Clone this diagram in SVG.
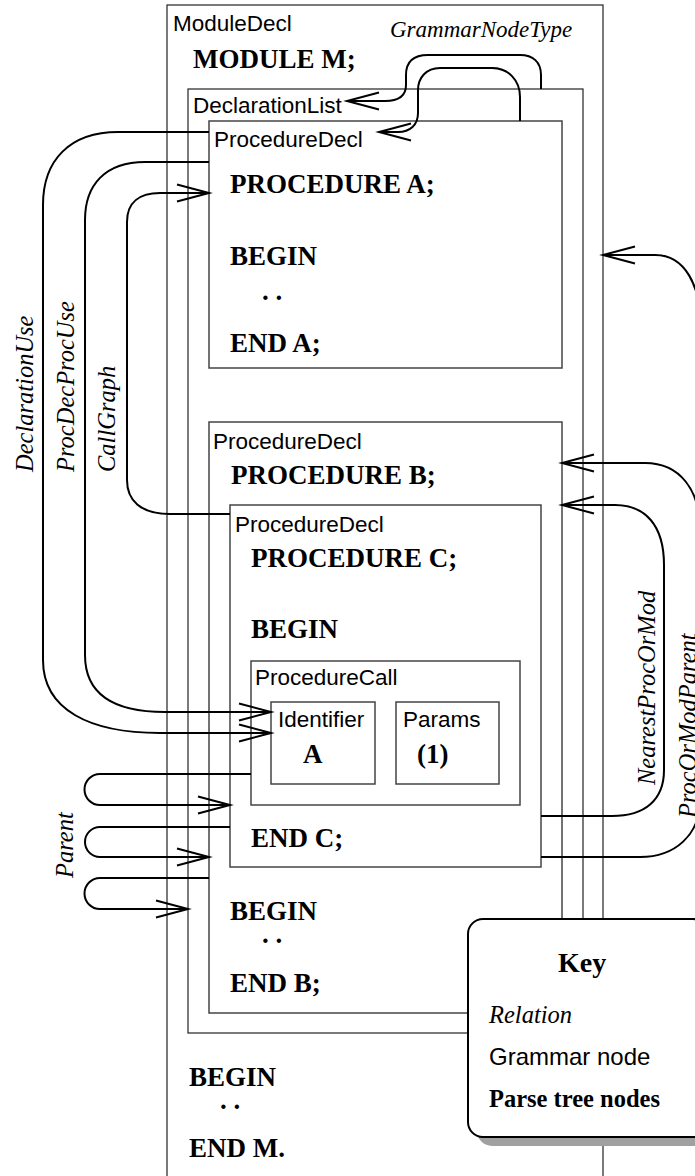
<svg xmlns="http://www.w3.org/2000/svg" width="695" height="1176" viewBox="0 0 695 1176">
<defs>
<marker id="arr" markerUnits="userSpaceOnUse" markerWidth="40" markerHeight="24" viewBox="-34 -12 36 24" refX="0" refY="0" orient="auto" overflow="visible">
<path d="M -32 -8.5 L 0 0 L -32 8.5" fill="none" stroke="#000" stroke-width="2"/>
</marker>
<style>
.box{fill:none;stroke:#444;stroke-width:1.5}
.obox{fill:none;stroke:#222;stroke-width:1.2}
.g{font-family:"Liberation Sans",Arial,sans-serif;font-size:22.5px;fill:#000}
.c{font-family:"Liberation Serif","Times New Roman",serif;font-weight:bold;font-size:27px;fill:#000}
.r{font-family:"Liberation Serif","Times New Roman",serif;font-style:italic;font-size:24.5px;fill:#000}
.con{fill:none;stroke:#000;stroke-width:2}
</style>
</defs>
<rect width="695" height="1176" fill="#fff"/>

<g id="ModuleDecl">
<rect class="obox" x="167" y="5" width="436" height="1180"/>
<text class="g" x="173" y="31">ModuleDecl</text>
<text class="c" x="193" y="68">MODULE M;</text>
<text class="c" x="189" y="1086">BEGIN</text>
<text class="c" x="220" y="1109">. .</text>
<text class="c" x="189" y="1157">END M.</text>
</g>

<g id="DeclarationList">
<rect class="obox" x="188" y="89" width="395" height="944"/>
<text class="g" x="193" y="113">DeclarationList</text>
</g>

<g id="ProcedureDeclA">
<rect class="box" x="209" y="121" width="353" height="247"/>
<text class="g" x="214" y="147">ProcedureDecl</text>
<text class="c" x="230" y="193">PROCEDURE A;</text>
<text class="c" x="230" y="265">BEGIN</text>
<text class="c" x="262" y="300">. .</text>
<text class="c" x="230" y="352">END A;</text>
</g>

<g id="ProcedureDeclB">
<rect class="box" x="209" y="422" width="353" height="591"/>
<text class="g" x="213" y="449">ProcedureDecl</text>
<text class="c" x="231" y="484">PROCEDURE B;</text>
<text class="c" x="230" y="920">BEGIN</text>
<text class="c" x="262" y="943">. .</text>
<text class="c" x="230" y="992">END B;</text>
</g>

<g id="ProcedureDeclC">
<rect class="box" x="230" y="505" width="311" height="362"/>
<text class="g" x="235" y="532">ProcedureDecl</text>
<text class="c" x="251" y="567">PROCEDURE C;</text>
<text class="c" x="251" y="638">BEGIN</text>
<text class="c" x="251" y="847">END C;</text>
</g>

<g id="ProcedureCall">
<rect class="box" x="251" y="661" width="269" height="144"/>
<text class="g" x="255" y="685">ProcedureCall</text>
</g>

<g id="Identifier">
<rect class="box" x="271" y="702" width="104" height="82"/>
<text class="g" x="278" y="727">Identifier</text>
<text class="c" x="303" y="763">A</text>
</g>

<g id="Params">
<rect class="box" x="396" y="702" width="103" height="82"/>
<text class="g" x="403" y="727">Params</text>
<text class="c" x="417" y="763">(1)</text>
</g>

<g id="connectors">
<path class="con" marker-end="url(#arr)" d="M 541 89 V 75 C 541 62 533 55 520 55 H 428 C 413 55 406 62 406 75 V 85 C 406 96 398 101 385 101 H 347"/>
<path class="con" marker-end="url(#arr)" d="M 520 121 V 97 C 520 80 508 68 492 68 H 440 C 426 68 418 78 418 90 V 113 C 418 125 410 132 398 132 H 379"/>
<path class="con" marker-end="url(#arr)" d="M 209 132 H 118 C 70 132 43 160 43 205 V 660 C 43 710 90 733 160 733 H 271"/>
<path class="con" marker-end="url(#arr)" d="M 209 162 H 145 C 105 162 85 185 85 220 V 655 C 85 695 115 712 165 712 H 271"/>
<path class="con" marker-end="url(#arr)" d="M 230 514 H 170 C 140 514 127 500 127 480 V 222 C 127 202 140 193 160 193 H 209"/>
<path class="con" marker-end="url(#arr)" d="M 251 774 H 100 A 15.5 15.5 0 0 0 100 805 H 230"/>
<path class="con" marker-end="url(#arr)" d="M 230 827 H 100 A 15 15 0 0 0 100 857 H 209"/>
<path class="con" marker-end="url(#arr)" d="M 209 878 H 100 A 15.5 15.5 0 0 0 100 909 H 188"/>
<path class="con" marker-end="url(#arr)" d="M 541 816 H 612 C 645 816 664 800 664 770 V 565 C 664 525 645 505 615 505 H 562"/>
<path class="con" marker-end="url(#arr)" d="M 541 857 H 640 C 675 857 700 835 700 800 V 530 C 700 490 680 463 645 463 H 562"/>
<path class="con" marker-end="url(#arr)" d="M 701 900 V 330 C 701 285 685 255 655 255 H 603"/>
<text class="r" x="390" y="37" style="font-size:23px">GrammarNodeType</text>
<text class="r" transform="translate(33 472) rotate(-90)">DeclarationUse</text>
<text class="r" transform="translate(74 472) rotate(-90)">ProcDecProcUse</text>
<text class="r" transform="translate(115 472) rotate(-90)">CallGraph</text>
<text class="r" transform="translate(73 878) rotate(-90)">Parent</text>
<text class="r" transform="translate(655 785) rotate(-90)">NearestProcOrMod</text>
<text class="r" transform="translate(696 818) rotate(-90)">ProcOrModParent</text>
</g>

<g id="Key">
<rect x="477" y="928" width="240" height="218" rx="15" fill="#a0a0a0"/>
<rect x="468" y="919" width="240" height="218" rx="15" fill="#fff" stroke="#000" stroke-width="2"/>
<text class="c" x="558" y="972" style="font-size:28px">Key</text>
<text class="r" x="489" y="1023">Relation</text>
<text class="g" x="489" y="1065" style="font-size:24px">Grammar node</text>
<text class="c" x="489" y="1107" style="font-size:24.5px">Parse tree nodes</text>
</g>
</svg>
